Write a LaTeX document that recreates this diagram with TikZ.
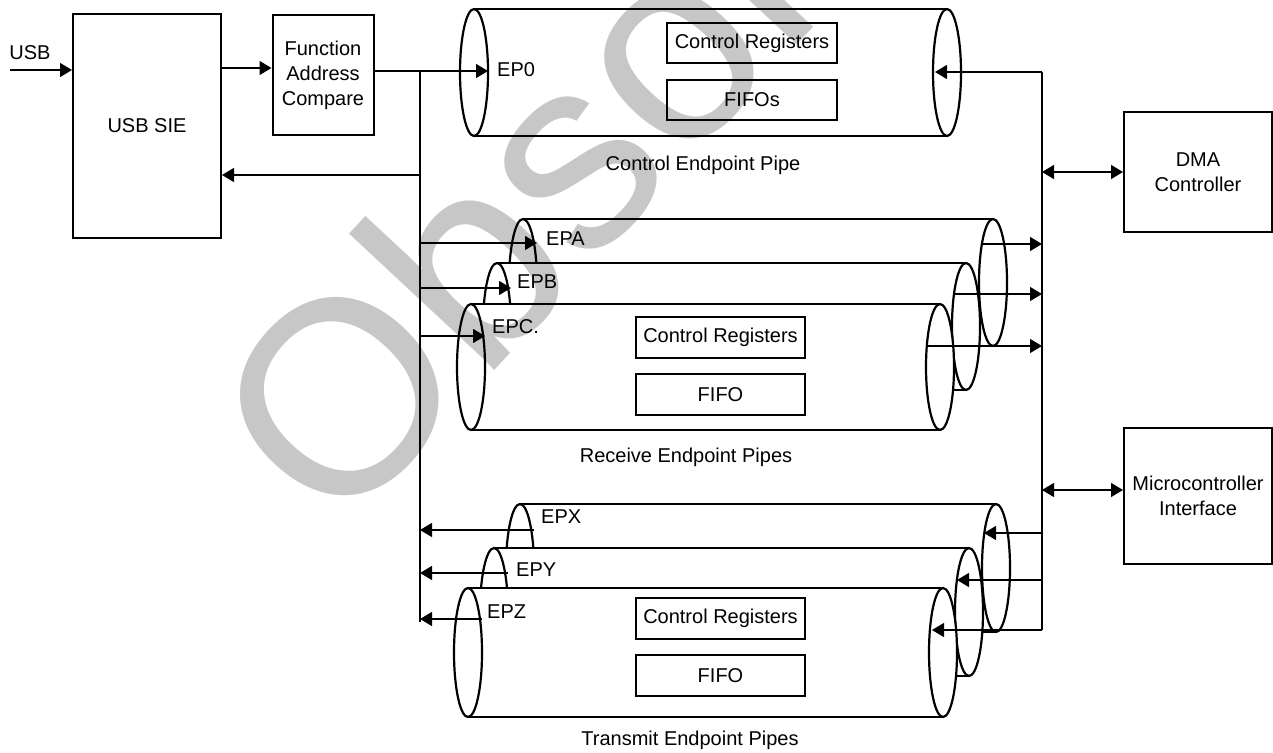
\documentclass[tikz,border=0pt]{standalone}
\usepackage{fontspec}
\setmainfont{Liberation Sans}
\usetikzlibrary{arrows.meta}
\tikzset{
  box/.style={draw, line width=2pt, align=center, inner sep=2pt, font=\fontsize{20}{25}\selectfont},
  lbl/.style={inner sep=0pt, font=\fontsize{20}{25}\selectfont},
  conn/.style={line width=1.3pt},
  arr/.style={conn, -{Triangle[length=12pt,width=14pt]}},
  darr/.style={conn, {Triangle[length=12pt,width=14pt]}-{Triangle[length=12pt,width=14pt]}},
  pipeline/.style={line width=2.2pt},
}
% pipe: left x, right x, top y, bottom y
\newcommand{\drawpipe}[4]{%
  \fill[white] (#1,#3) rectangle (#2,#4);
  \draw[pipeline, fill=white] (#2,{(#3+#4)/2}) ellipse [x radius=14, y radius={(#4-#3)/2}];
  \draw[pipeline, fill=white] (#1,{(#3+#4)/2}) ellipse [x radius=14, y radius={(#4-#3)/2}];
  \draw[pipeline] (#1,#3) -- (#2,#3) (#1,#4) -- (#2,#4);
}
\begin{document}
\begin{tikzpicture}[x=1pt, y=-1pt]
  \useasboundingbox (0,0) rectangle (1273,752);
  % control endpoint pipe
  \drawpipe{474}{947}{9}{136}
  \node[box, minimum width=170pt, minimum height=40pt] (cr0) at (752,43) {Control Registers};
  \node[box, minimum width=170pt, minimum height=40pt] (fifo0) at (752,100) {FIFOs};
  \node[lbl, anchor=west] (ep0) at (497,70) {EP0};
  \node[lbl] (ctrlpipe) at (703,165) {Control Endpoint Pipe};
  % receive endpoint pipes
  \drawpipe{523}{993}{219}{346}
  \drawpipe{497}{966}{263}{390}
  \drawpipe{471}{940}{304}{430}
  \node[box, minimum width=169pt, minimum height=41pt] (cr1) at (720.5,337.5) {Control Registers};
  \node[box, minimum width=169pt, minimum height=41pt] (fifo1) at (720.5,394.5) {FIFO};
  \node[lbl, anchor=west] (epa) at (546,239) {EPA};
  \node[lbl, anchor=west] (epb) at (517,282) {EPB};
  \node[lbl, anchor=west] (epc) at (492,327) {EPC.};
  \node[lbl] (rxpipe) at (686,457) {Receive Endpoint Pipes};
  % transmit endpoint pipes
  \drawpipe{520}{996}{504}{632}
  \drawpipe{494}{969}{548}{676}
  \drawpipe{468}{943}{588}{717}
  \node[box, minimum width=169pt, minimum height=41pt] (cr2) at (720.5,618.5) {Control Registers};
  \node[box, minimum width=169pt, minimum height=41pt] (fifo2) at (720.5,675.5) {FIFO};
  \node[lbl, anchor=west] (epx) at (541,517) {EPX};
  \node[lbl, anchor=west] (epy) at (516,570) {EPY};
  \node[lbl, anchor=west] (epz) at (487,612) {EPZ};
  \node[lbl] (txpipe) at (690,740) {Transmit Endpoint Pipes};
  % blocks
  \node[box, minimum width=148pt, minimum height=223pt] (sie) at (147,126) {USB SIE};
  \node[box, minimum width=101pt, minimum height=120pt] (fac) at (323,75) {Function\\Address\\Compare};
  \node[box, minimum width=148pt, minimum height=120pt] (dma) at (1198,172) {DMA\\Controller};
  \node[box, minimum width=148pt, minimum height=136pt] (mcu) at (1198,496) {Microcontroller\\Interface};
  \node[lbl] (usb) at (30,53) {USB};
  % bus points
  \coordinate (usbin) at (10,70);
  \coordinate (lbtop) at (420,71);
  \coordinate (lbbot) at (420,622);
  \coordinate (lbret) at (420,175);
  \coordinate (rbtop) at (1042,72);
  \coordinate (rbbot) at (1042,630);
  \coordinate (ep0in) at (488,71);
  \coordinate (ep0out) at (935,72);
  \coordinate (epain) at (537,243);
  \coordinate (epbin) at (511,288);
  \coordinate (epcin) at (485,336);
  \coordinate (epaout) at (981,244);
  \coordinate (epbout) at (954,294);
  \coordinate (epcout) at (928,346);
  \coordinate (epxout) at (534,530);
  \coordinate (epyout) at (508,573);
  \coordinate (epzout) at (482,619);
  \coordinate (epxin) at (984,533);
  \coordinate (epyin) at (957,580);
  \coordinate (epzin) at (932,630);
  % SIE side
  \draw[arr] (usbin) -- (sie.west |- usbin);
  \draw[arr] (sie.east |- 0,68) -- (fac.west |- 0,68);
  \draw[arr] (fac.east |- ep0in) -- (ep0in);
  \draw[conn] (lbtop) -- (lbbot);
  \draw[arr] (lbret) -- (sie.east |- lbret);
  \draw[arr] (lbtop |- epain) -- (epain);
  \draw[arr] (lbtop |- epbin) -- (epbin);
  \draw[arr] (lbtop |- epcin) -- (epcin);
  \draw[arr] (epxout) -- (lbtop |- epxout);
  \draw[arr] (epyout) -- (lbtop |- epyout);
  \draw[arr] (epzout) -- (lbtop |- epzout);
  % DMA / microcontroller side
  \draw[conn] (rbtop) -- (rbbot);
  \draw[arr] (rbtop) -- (ep0out);
  \draw[arr] (epaout) -- (rbtop |- epaout);
  \draw[arr] (epbout) -- (rbtop |- epbout);
  \draw[arr] (epcout) -- (rbtop |- epcout);
  \draw[arr] (rbtop |- epxin) -- (epxin);
  \draw[arr] (rbtop |- epyin) -- (epyin);
  \draw[arr] (rbbot) -- (epzin);
  \draw[darr] (rbtop |- dma.west) -- (dma.west);
  \draw[darr] (rbtop |- 0,490) -- (mcu.west |- 0,490);
  % watermark
  \node[rotate=47, text=black, text opacity=0.22, inner sep=0pt, font=\fontsize{275}{275}\selectfont] (wmark) at (640,70) {Obsolete};
\end{tikzpicture}
\end{document}
